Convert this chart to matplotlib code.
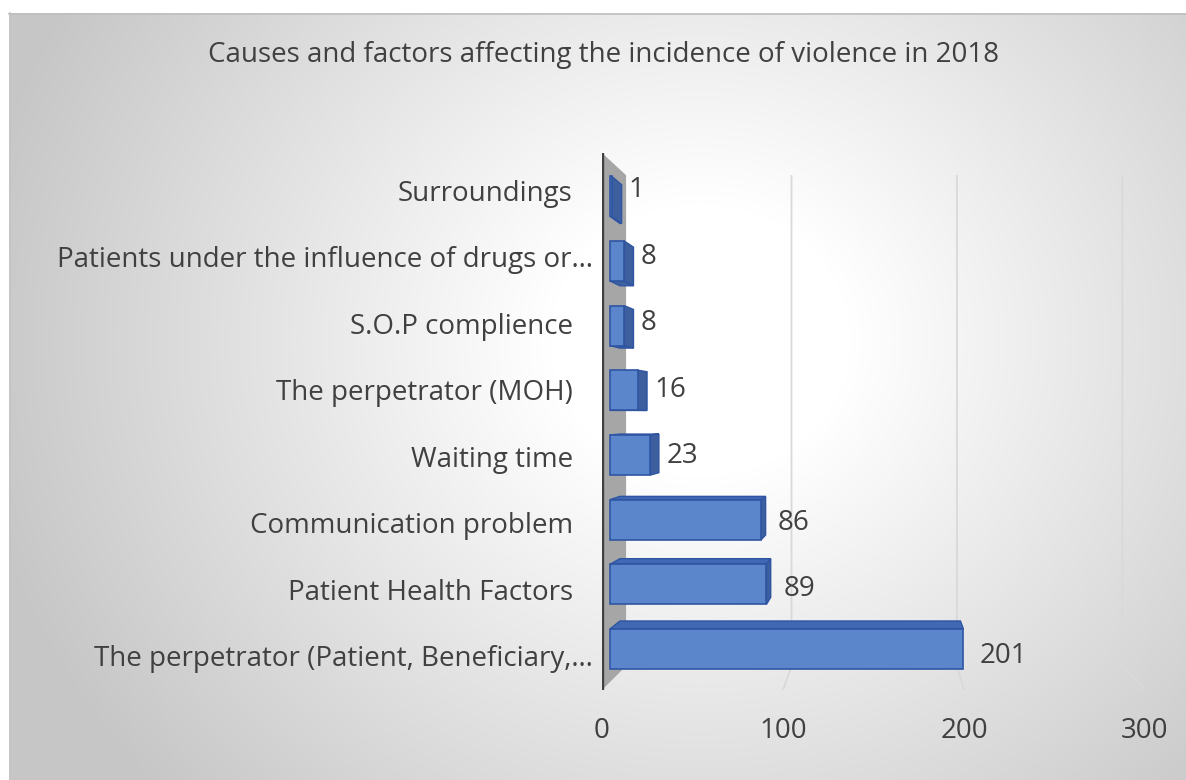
import numpy as np
import matplotlib.pyplot as plt
from matplotlib.patches import Polygon
from matplotlib.transforms import ScaledTranslation

# data (bottom to top)
categories = ["The perpetrator (Patient, Beneficiary,\u2026",
              "Patient Health Factors",
              "Communication problem",
              "Waiting time",
              "The perpetrator (MOH)",
              "S.O.P complience",
              "Patients under the influence of drugs or\u2026",
              "Surroundings"]
values = [201, 89, 86, 23, 16, 8, 8, 1]
x_ticks = [0, 100, 200, 300]
title = "Causes and factors affecting the incidence of violence in 2018"

plt.rcParams['font.family'] = ['Open Sans', 'DejaVu Sans']
txt = '#404040'

W, H = 1186, 780
fig = plt.figure(figsize=(W / 100, H / 100), dpi=100)
fig.patch.set_facecolor('white')

# background: radial grey gradient of the chart area
bg = fig.add_axes([0, 0, 1, 1])
bg.set_xlim(0, W)
bg.set_ylim(H, 0)
bg.axis('off')
yy, xx = np.mgrid[0:H, 0:W]
r = np.hypot(xx - 700, (yy - 340) * 1.1)
g = 1 - 0.22 * np.clip((r - 150) / 580, 0, 1)
img = np.dstack([g, g, g])
img[:13, :] = 1
img[:, :9] = 1
bg.imshow(img, extent=[0, W, H, 0], interpolation='bilinear', aspect='auto')
bg.plot([9, W], [13.5, 13.5], color='#bfbfbf', lw=1.2)
bg.plot([9.5, 9.5], [13, H], color='#c4c4c4', lw=1.2)

fig.text(603.5 / W, 1 - 55 / H, title, ha='center', va='center',
         fontsize=20, color=txt)

ax = fig.add_axes([602 / W, 1 - 690 / H, 543 / W, 537 / H])
ytop, ybot = 7.556, -0.511
ax.set_xlim(0, 300)
ax.set_ylim(ybot, ytop)
ax.patch.set_alpha(0)
for s in ax.spines.values():
    s.set_visible(False)

# simple perspective: points recede toward a vanishing point
VX, VY = 154.7, 3.68
t_wall, t1, t2 = 0.086, 0.0286, 0.064


def proj(x, y, t):
    return (x + t * (VX - x), y + t * (VY - y))


# side wall
ax.add_patch(Polygon([proj(0, ytop, 0), proj(0, ytop, t_wall),
                      proj(0, ybot, t_wall), proj(0, ybot, 0)],
                     closed=True, facecolor='#a6a6a6', edgecolor='none', zorder=1))

# gridlines on back wall + floor
for v in x_ticks[1:]:
    pts = [proj(v, ytop, t_wall), proj(v, ybot, t_wall), proj(v, ybot, 0)]
    ax.plot([p[0] for p in pts], [p[1] for p in pts], color='#d9d9d9',
            lw=1.3, zorder=0.5, solid_capstyle='butt')

ax.plot([0, 0], [ybot, ytop], color='#404040', lw=2.4, zorder=2,
        solid_capstyle='round')

front_c = '#5b86cc'
top_c = '#4169b3'
side_c = '#3d5f9e'
edge_c = '#2f55a2'
h = 0.62
for i, v in enumerate(values):
    x0, x1 = 0, v
    y0, y1 = i - h / 2, i + h / 2
    F = [proj(x0, y0, t1), proj(x1, y0, t1), proj(x1, y1, t1), proj(x0, y1, t1)]
    B = [proj(x0, y0, t2), proj(x1, y0, t2), proj(x1, y1, t2), proj(x0, y1, t2)]
    if VY > y1:
        ax.add_patch(Polygon([F[3], F[2], B[2], B[3]], facecolor=top_c,
                             edgecolor=edge_c, lw=1, zorder=3))
    if VY < y0:
        ax.add_patch(Polygon([F[0], F[1], B[1], B[0]], facecolor=side_c,
                             edgecolor=edge_c, lw=1, zorder=3))
    if VX > x1:
        ax.add_patch(Polygon([F[1], F[2], B[2], B[1]], facecolor=side_c,
                             edgecolor=edge_c, lw=1, zorder=3))
    ax.add_patch(Polygon(F, facecolor=front_c, edgecolor=edge_c, lw=1.2, zorder=4))
    ax.annotate(str(v), (F[1][0], i), xytext=(12, 0), textcoords='offset points',
                ha='left', va='center', fontsize=20, color=txt, zorder=5)

ax.set_yticks(range(len(categories)))
ax.set_yticklabels(categories)
ax.set_xticks(x_ticks)
ax.tick_params(axis='both', length=0, labelsize=20, labelcolor=txt)
ax.tick_params(axis='y', pad=21)
ax.tick_params(axis='x', pad=19.5)

# truncated labels sit a little further right, as in the original
shift = ScaledTranslation(0.2, 0, fig.dpi_scale_trans)
for lab in ax.get_yticklabels():
    if lab.get_text().endswith('\u2026'):
        lab.set_transform(lab.get_transform() + shift)

fig.savefig('out.png', dpi=100)
